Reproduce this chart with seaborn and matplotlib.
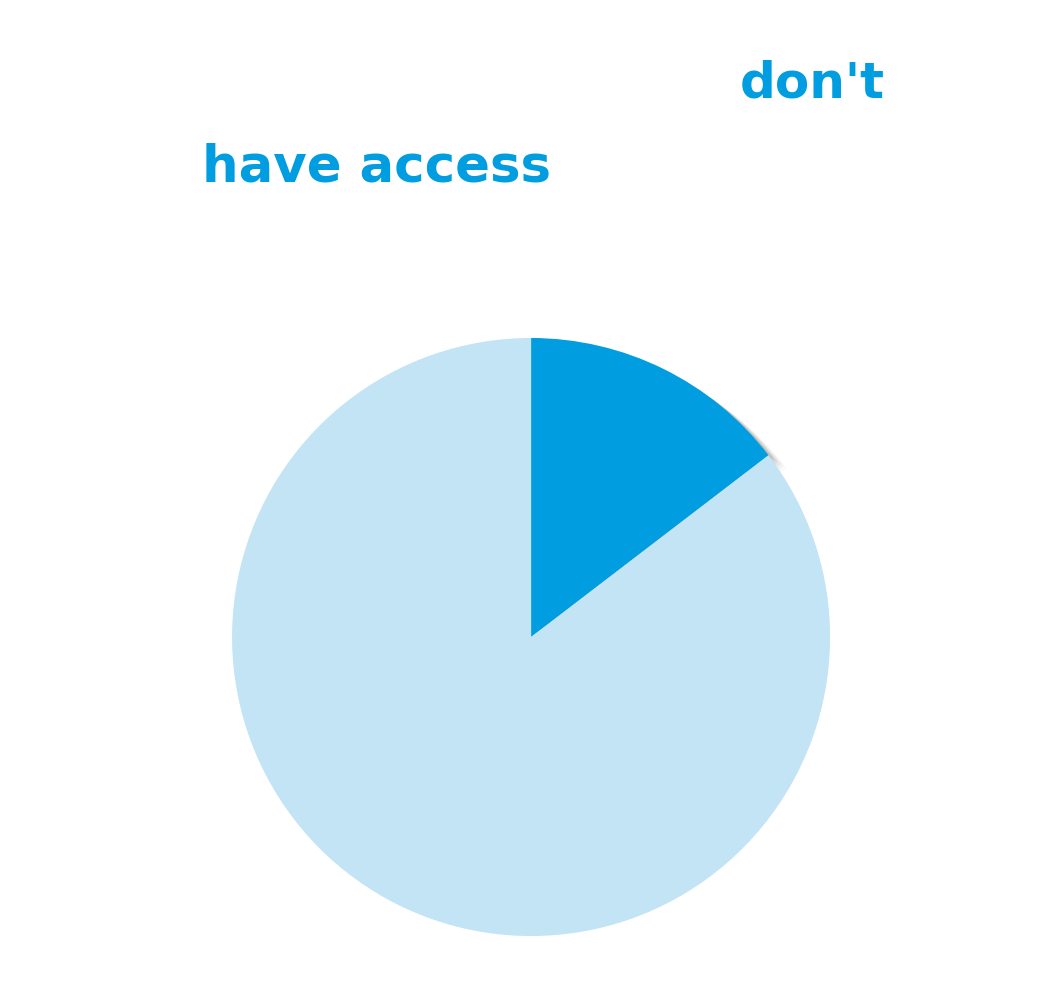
import matplotlib
matplotlib.use("Agg")
import matplotlib.pyplot as plt
import matplotlib.patheffects as pe
import seaborn as sns

labels = ["don't", "have access"]
shares = [14.6, 85.4]
colors = ["#009EE0", "#C2E4F4"]

sns.set_theme(style="white")
plt.rcParams['font.family'] = ['DejaVu Sans']

fig = plt.figure(figsize=(10.63, 9.88), dpi=100)
ax = fig.add_axes([0.2183, 0.0526, 0.5626, 0.6053])

wedges, _ = ax.pie(shares, colors=colors, startangle=90, counterclock=False,
                   radius=1, wedgeprops=dict(linewidth=0))

# soft shadow on the dark slice
shadow = []
for off, a in [(3, 0.09), (5, 0.07), (7, 0.06), (9, 0.045), (11, 0.03), (13, 0.02)]:
    shadow.append(pe.SimplePatchShadow(offset=(off, -off * 0.7), shadow_rgbFace='k', alpha=a))
shadow.append(pe.Normal())
wedges[0].set_path_effects(shadow)
wedges[0].set_zorder(1)
wedges[1].set_zorder(2)

ax.set_xlim(-1, 1)
ax.set_ylim(-1, 1)
ax.set_aspect('equal')
ax.axis('off')

fig.text(740 / 1063, 1 - 97 / 988, labels[0], color=colors[0], fontsize=36,
         fontweight='bold', ha='left', va='baseline')
fig.text(202 / 1063, 1 - 181 / 988, labels[1], color=colors[0], fontsize=37,
         fontweight='bold', ha='left', va='baseline')

fig.savefig("out.png", dpi=100, facecolor='white')
